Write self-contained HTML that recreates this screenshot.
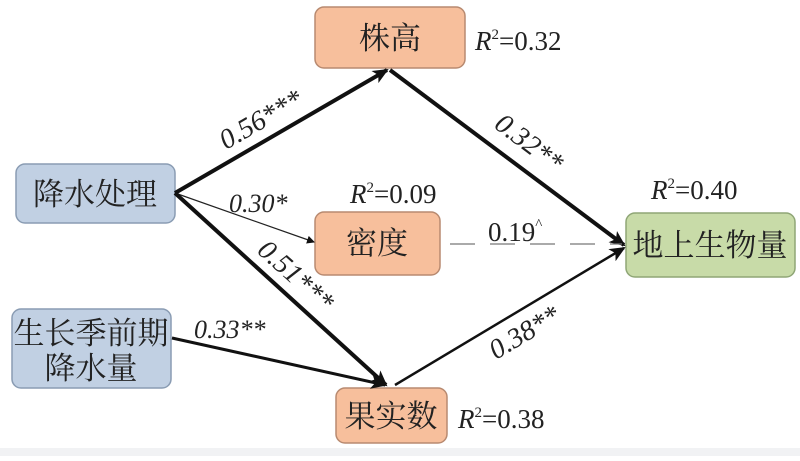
<!DOCTYPE html>
<html><head><meta charset="utf-8"><style>
body{margin:0;background:#fff;}
svg text{font-family:"Liberation Serif","Times New Roman","Noto Serif CJK SC",serif;}
.cn{font-family:"Liberation Serif","Noto Serif CJK SC",serif;font-size:31px;fill:#222;}
.lb{font-size:28px;font-style:italic;fill:#222;}
.r{font-size:27px;fill:#222;}
</style></head><body>
<svg width="800" height="456" viewBox="0 0 800 456" xmlns="http://www.w3.org/2000/svg">
<defs>
<marker id="a" markerWidth="8" markerHeight="8" refX="7" refY="4" orient="auto" markerUnits="userSpaceOnUse"><path d="M0,0 L8,4 L0,8 z" fill="#111"/></marker>
<marker id="b" markerWidth="16" markerHeight="14" refX="14" refY="7" orient="auto" markerUnits="userSpaceOnUse"><path d="M0,0 L16,7 L0,14 L4,7 z" fill="#111"/></marker>
</defs>
<rect x="0" y="448" width="800" height="8" fill="#f1f2f4"/>
<rect x="315" y="7" width="150" height="61" rx="9" fill="#f7bf9c" stroke="#b88a70" stroke-width="1.5"/>
<text x="390" y="49" text-anchor="middle" class="cn">株高</text>
<rect x="16" y="164" width="159" height="59" rx="9" fill="#c1d0e3" stroke="#8a9cb3" stroke-width="1.5"/>
<text x="95" y="205" text-anchor="middle" class="cn">降水处理</text>
<rect x="315" y="212" width="125" height="63" rx="9" fill="#f7bf9c" stroke="#b88a70" stroke-width="1.5"/>
<text x="377" y="254" text-anchor="middle" class="cn">密度</text>
<rect x="12" y="309" width="159" height="79" rx="9" fill="#c1d0e3" stroke="#8a9cb3" stroke-width="1.5"/>
<text x="91" y="344" text-anchor="middle" class="cn">生长季前期</text>
<text x="91" y="379" text-anchor="middle" class="cn">降水量</text>
<rect x="336" y="388" width="111" height="55" rx="9" fill="#f7bf9c" stroke="#b88a70" stroke-width="1.5"/>
<text x="391" y="427" text-anchor="middle" class="cn">果实数</text>
<rect x="626" y="213" width="169" height="64" rx="9" fill="#c8dba8" stroke="#8fa676" stroke-width="1.5"/>
<text x="710" y="256" text-anchor="middle" class="cn">地上生物量</text>
<text x="475" y="50" class="r"><tspan font-style="italic">R</tspan><tspan font-size="15" dy="-11">2</tspan><tspan dy="11">=0.32</tspan></text>
<text x="350" y="203" class="r"><tspan font-style="italic">R</tspan><tspan font-size="15" dy="-11">2</tspan><tspan dy="11">=0.09</tspan></text>
<text x="651" y="199" class="r"><tspan font-style="italic">R</tspan><tspan font-size="15" dy="-11">2</tspan><tspan dy="11">=0.40</tspan></text>
<text x="458" y="428" class="r"><tspan font-style="italic">R</tspan><tspan font-size="15" dy="-11">2</tspan><tspan dy="11">=0.38</tspan></text>
<line x1="175" y1="193" x2="387" y2="70" stroke="#111" stroke-width="4" marker-end="url(#b)"/>
<line x1="390" y1="70" x2="624" y2="245" stroke="#111" stroke-width="4" marker-end="url(#b)"/>
<line x1="175" y1="193" x2="314" y2="242" stroke="#222" stroke-width="1.2" marker-end="url(#a)"/>
<line x1="175" y1="193" x2="386" y2="385" stroke="#111" stroke-width="4" marker-end="url(#b)"/>
<line x1="172" y1="338" x2="385" y2="385" stroke="#111" stroke-width="3" marker-end="url(#b)"/>
<line x1="395" y1="385" x2="624" y2="248" stroke="#111" stroke-width="2.5" marker-end="url(#b)"/>
<line x1="450" y1="244" x2="622" y2="244" stroke="#777" stroke-width="1.3" stroke-dasharray="25,15"/>
<text class="lb" transform="translate(226,150) rotate(-30)">0.56***</text>
<text class="lb" transform="translate(493,127) rotate(37)">0.32**</text>
<text class="lb" x="229" y="212" style="font-size:26px">0.30*</text>
<text class="lb" transform="translate(256,252) rotate(42)">0.51***</text>
<text class="lb" x="194" y="338" style="font-size:26px">0.33**</text>
<text class="lb" transform="translate(496,360) rotate(-31)">0.38**</text>
<text class="r" x="488" y="241" font-size="26">0.19<tspan font-size="15" dy="-12">^</tspan></text>
</svg>
</body></html>
